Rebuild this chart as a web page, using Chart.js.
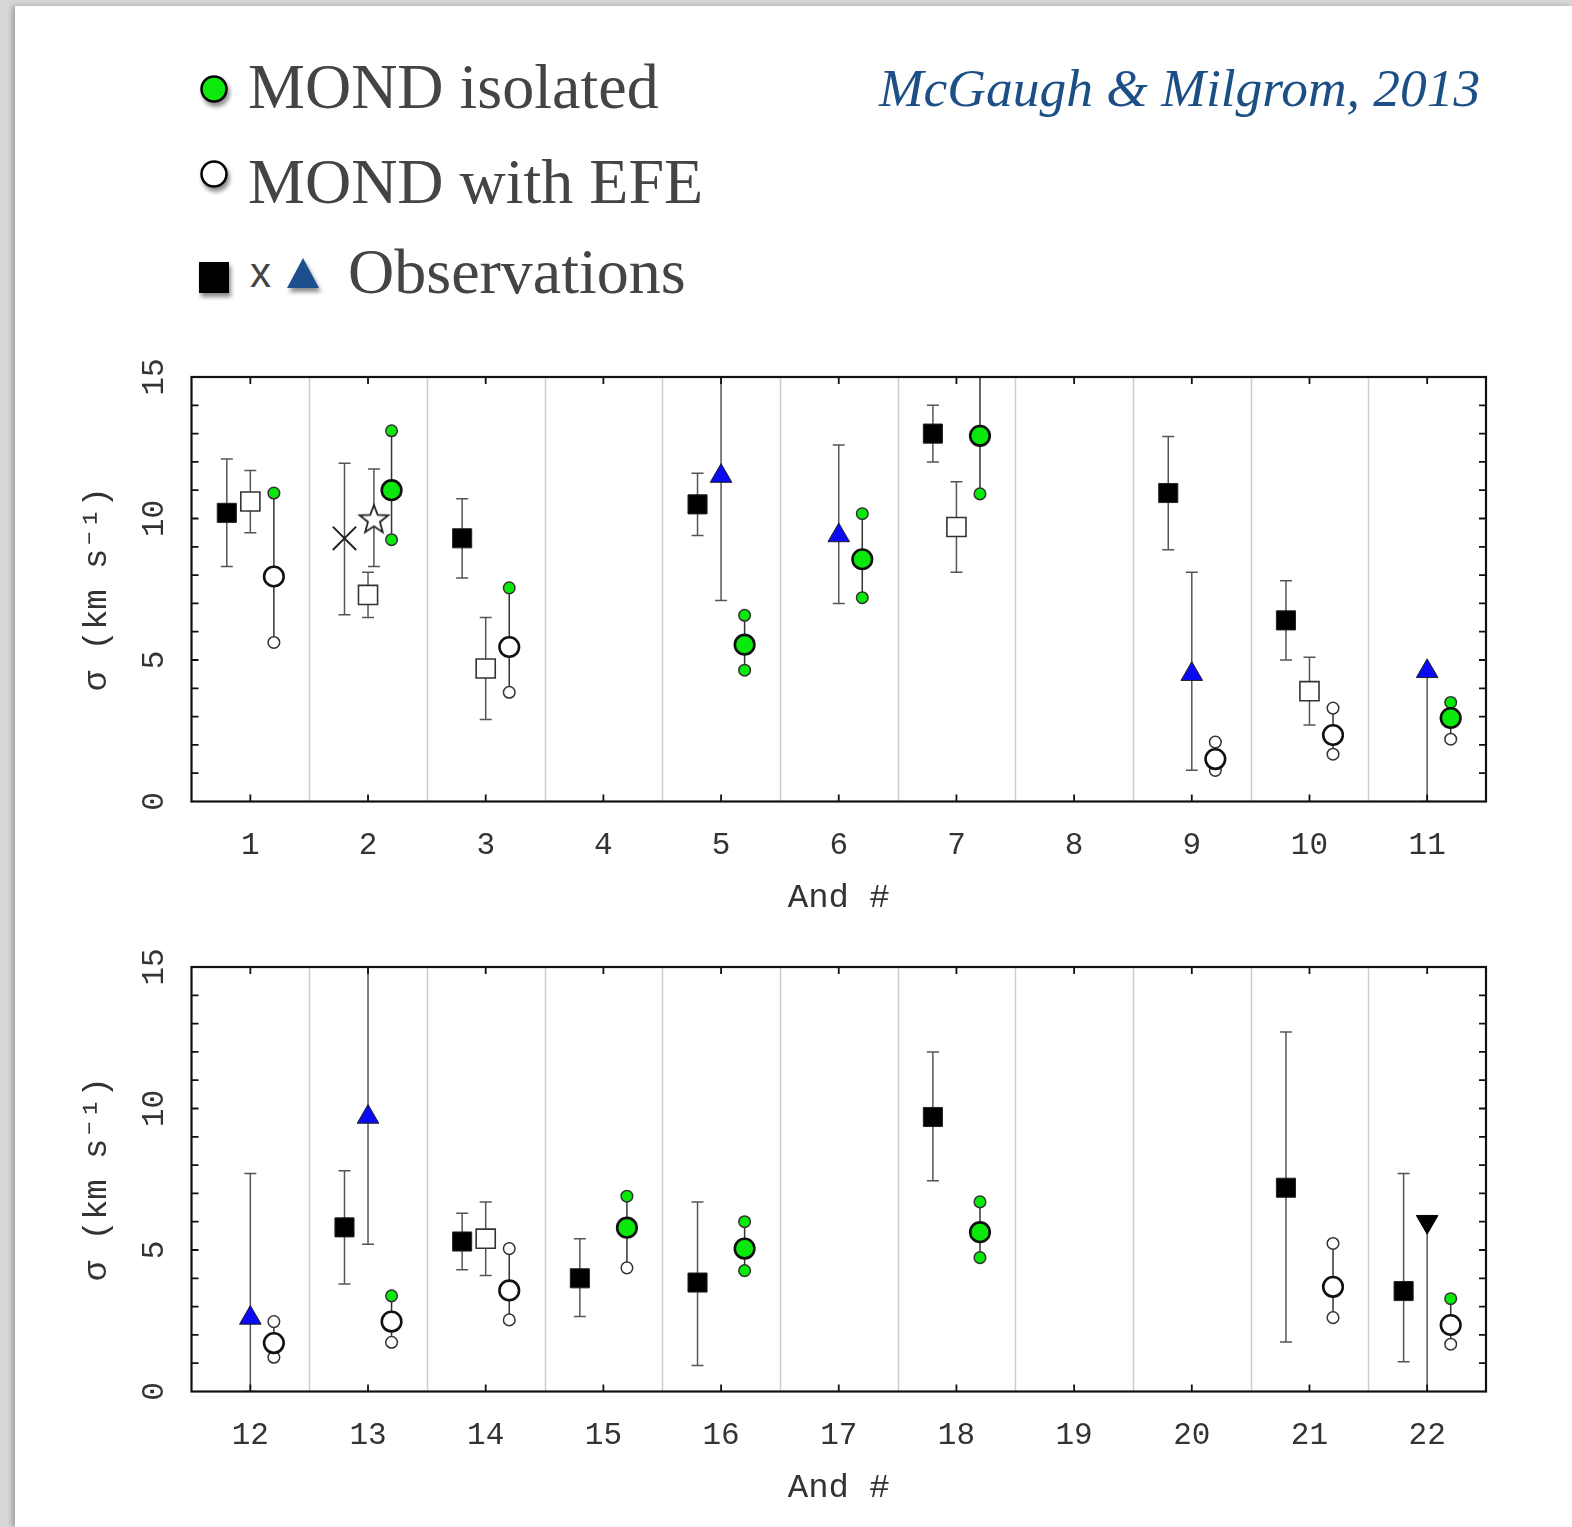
<!DOCTYPE html>
<html>
<head>
<meta charset="utf-8">
<script src="https://cdn.jsdelivr.net/npm/chart.js@4.4.1/dist/chart.umd.min.js"></script>
<style>
html, body { margin: 0; padding: 0; background: #d7d7d7; overflow: hidden; }
#page { position: absolute; left: 15px; top: 6px; width: 1557px; height: 1521px; background: #fff; box-shadow: -3px 0 5px rgba(0,0,0,.25); }
#head { position: absolute; left: 0; top: 0; }
.wrap { position: absolute; left: 0; width: 1572px; height: 600px; }
</style>
</head>
<body>
<div id="page"></div>
<svg id="head" width="1572" height="330">
  <defs>
    <filter id="sh" x="-50%" y="-50%" width="200%" height="200%">
      <feDropShadow dx="2" dy="4" stdDeviation="2" flood-color="#000" flood-opacity="0.45"/>
    </filter>
  </defs>
  <g font-family="Liberation Serif, serif" font-size="64" fill="#444">
    <circle cx="214" cy="89" r="12.5" fill="#0be80b" stroke="#000" stroke-width="2.5" filter="url(#sh)"/>
    <text x="248" y="108">MOND isolated</text>
    <circle cx="214" cy="174" r="12.5" fill="#fff" stroke="#000" stroke-width="2.5" filter="url(#sh)"/>
    <text x="248" y="203">MOND with EFE</text>
    <rect x="199" y="262" width="30" height="31" fill="#000" filter="url(#sh)"/>
    <text x="250" y="287" font-family="Liberation Sans, sans-serif" font-size="42">x</text>
    <polygon points="287,288 319,288 303,258" fill="#1c4f8c" filter="url(#sh)"/>
    <text x="348" y="293">Observations</text>
  </g>
  <text x="879" y="106" font-family="Liberation Serif, serif" font-style="italic" font-size="53.5" fill="#1b4f86">McGaugh &amp; Milgrom, 2013</text>
</svg>
<div class="wrap" style="top:330px"><canvas id="topChart" width="1572" height="600"></canvas></div>
<div class="wrap" style="top:919.5px"><canvas id="bottomChart" width="1572" height="600"></canvas></div>

<script>
// galaxies shown in each panel, and labelled sigma ticks
const andTop = [1, 2, 3, 4, 5, 6, 7, 8, 9, 10, 11];
const andBottom = [12, 13, 14, 15, 16, 17, 18, 19, 20, 21, 22];
const yTicks = [0, 5, 10, 15];

// observed velocity dispersions: [And #, sigma, lower, upper]
const obsFilledSq = [
  [1, 10.2, 8.3, 12.1], [3, 9.3, 7.9, 10.7], [5, 10.5, 9.4, 11.6], [7, 13.0, 12.0, 14.0],
  [9, 10.9, 8.9, 12.9], [10, 6.4, 5.0, 7.8], [13, 5.8, 3.8, 7.8], [14, 5.3, 4.3, 6.3],
  [15, 4.0, 2.65, 5.4], [16, 3.85, 0.92, 6.7], [18, 9.7, 7.45, 12.0], [21, 7.2, 1.75, 12.7],
  [22, 3.55, 1.05, 7.7]
];
const obsOpenSq = [
  [1, 10.6, 9.5, 11.7], [2, 7.3, 6.5, 8.1], [3, 4.7, 2.9, 6.5],
  [7, 9.7, 8.1, 11.3], [10, 3.9, 2.7, 5.1], [14, 5.4, 4.1, 6.7]
];
const obsCross = [[2, 9.3, 6.6, 11.95]];
const obsStar = [[2, 10.0, 8.3, 11.75]];
const obsTriangle = [
  [5, 11.5, 7.1, 16], [6, 9.4, 7.0, 12.6], [9, 4.5, 1.1, 8.1],
  [11, 4.6, 0, 4.6], [12, 2.6, 0, 7.7], [13, 9.7, 5.2, 16]
];
const obsLimit = [[22, 6.0, 0, 6.0]];

// MOND predictions: [And #, upper, central, lower]; regime per value, g = isolated, o = EFE
const mond = [
  [1, 10.9, 7.95, 5.62], [2, 13.1, 11.0, 9.25], [3, 7.55, 5.46, 3.86], [5, 6.58, 5.54, 4.64],
  [6, 10.17, 8.56, 7.2], [7, 16, 12.92, 10.87], [9, 2.1, 1.5, 1.1], [10, 3.3, 2.35, 1.67],
  [11, 3.5, 2.95, 2.2], [12, 2.47, 1.71, 1.21], [13, 3.38, 2.47, 1.74], [14, 5.05, 3.57, 2.53],
  [15, 6.9, 5.79, 4.37], [16, 6.0, 5.05, 4.27], [18, 6.7, 5.63, 4.73], [21, 5.23, 3.7, 2.61],
  [22, 3.28, 2.35, 1.67]
];
const mondKind = [
  'goo', 'ggg', 'goo', 'ggg', 'ggg', 'ggg', 'ooo', 'ooo', 'ggo',
  'ooo', 'goo', 'ooo', 'ggo', 'ggg', 'ggg', 'ooo', 'goo'
];

const GREEN = '#0be80b';
const BLUE = '#0a0af5';
const tickFont = { family: 'Liberation Mono, monospace', size: 31 };
const titleFont = { family: 'Liberation Mono, monospace', size: 34 };

function starImage(r) {
  const s = Math.ceil(r * 2 + 6);
  const c = document.createElement('canvas');
  c.width = c.height = s;
  const g = c.getContext('2d');
  g.beginPath();
  for (let i = 0; i < 10; i++) {
    const rr = i % 2 ? r * 0.42 : r;
    const a = -Math.PI / 2 + i * Math.PI / 5;
    g.lineTo(s / 2 + rr * Math.cos(a), s / 2 + 1.5 + rr * Math.sin(a));
  }
  g.closePath();
  g.fillStyle = '#fff';
  g.fill();
  g.strokeStyle = '#222';
  g.lineWidth = 1.8;
  g.stroke();
  return c;
}

function inPanel(rows, cats) {
  return rows.filter(r => r[0] >= cats[0] && r[0] <= cats[cats.length - 1]);
}

function obsSet(rows, dx, opts) {
  return Object.assign({
    data: rows.map(r => ({ x: r[0] + dx, y: r[1] })),
    errs: rows.map(r => [r[0] + dx, r[2], r[3]]),
    cap: 6,
    errColor: '#555',
    showLine: false,
    order: 3
  }, opts);
}

function mondSets(cats) {
  const rows = [], kinds = [];
  mond.forEach((r, i) => {
    if (r[0] >= cats[0] && r[0] <= cats[cats.length - 1]) { rows.push(r); kinds.push(mondKind[i]); }
  });
  const col = k => k === 'g' ? GREEN : '#fff';
  const small = [], smallCol = [];
  rows.forEach((r, i) => {
    small.push({ x: r[0] + 0.2, y: r[1] }, { x: r[0] + 0.2, y: r[3] });
    smallCol.push(col(kinds[i][0]), col(kinds[i][2]));
  });
  return [
    {
      data: rows.map(r => ({ x: r[0] + 0.2, y: r[2] })),
      showLine: false, order: 0,
      pointRadius: 9.8, pointHoverRadius: 9.8, pointStyle: 'circle',
      pointBackgroundColor: kinds.map(k => col(k[1])),
      pointBorderColor: '#111', pointBorderWidth: 2.6
    },
    {
      data: small,
      errs: rows.map(r => [r[0] + 0.2, r[3], r[1]]),
      cap: 0, errColor: '#333',
      showLine: false, order: 1,
      pointRadius: 5.8, pointHoverRadius: 5.8, pointStyle: 'circle',
      pointBackgroundColor: smallCol,
      pointBorderColor: '#333', pointBorderWidth: 1.5
    }
  ];
}

const frame = {
  id: 'frame',
  beforeDatasetsDraw(chart) {
    const { ctx, chartArea: a, scales: { x, y } } = chart;
    ctx.save();
    ctx.strokeStyle = '#cdcdcd';
    ctx.lineWidth = 1.5;
    x.ticks.forEach(t => {
      if (t.value + 0.5 >= x.max) return;
      const px = Math.round(x.getPixelForValue(t.value + 0.5)) + 0.5;
      ctx.beginPath(); ctx.moveTo(px, a.top); ctx.lineTo(px, a.bottom); ctx.stroke();
    });
    ctx.beginPath();
    ctx.rect(a.left, a.top, a.width, a.height);
    ctx.clip();
    ctx.lineWidth = 1.5;
    chart.data.datasets.forEach(ds => {
      if (!ds.errs) return;
      ctx.strokeStyle = ds.errColor;
      ds.errs.forEach(([xv, lo, hi]) => {
        const px = x.getPixelForValue(xv);
        const p1 = y.getPixelForValue(lo), p2 = y.getPixelForValue(hi);
        ctx.beginPath();
        ctx.moveTo(px, p1); ctx.lineTo(px, p2);
        if (ds.cap) {
          ctx.moveTo(px - ds.cap, p1); ctx.lineTo(px + ds.cap, p1);
          ctx.moveTo(px - ds.cap, p2); ctx.lineTo(px + ds.cap, p2);
        }
        ctx.stroke();
      });
    });
    ctx.restore();
  },
  afterDatasetsDraw(chart) {
    const { ctx, chartArea: a, scales: { x, y } } = chart;
    ctx.save();
    ctx.strokeStyle = '#111';
    ctx.lineWidth = 1.8;
    ctx.beginPath();
    x.ticks.forEach(t => {
      const px = x.getPixelForValue(t.value);
      ctx.moveTo(px, a.top); ctx.lineTo(px, a.top + 7);
      ctx.moveTo(px, a.bottom); ctx.lineTo(px, a.bottom - 7);
    });
    for (let v = y.min + 1; v < y.max; v++) {
      const py = y.getPixelForValue(v);
      ctx.moveTo(a.left, py); ctx.lineTo(a.left + 7, py);
      ctx.moveTo(a.right, py); ctx.lineTo(a.right - 7, py);
    }
    ctx.stroke();
    ctx.lineWidth = 2.2;
    ctx.strokeRect(a.left, a.top, a.width, a.height);
    ctx.restore();
  }
};

function makePanel(id, cats) {
  const datasets = [
    ...mondSets(cats),
    obsSet(inPanel(obsTriangle, cats), 0, {
      order: 2, pointStyle: 'triangle', pointRadius: 12.5, pointHoverRadius: 12.5,
      pointBackgroundColor: BLUE, pointBorderColor: '#222', pointBorderWidth: 1
    }),
    obsSet(inPanel(obsLimit, cats), 0, {
      order: 2, cap: 0, pointStyle: 'triangle', pointRotation: 180, pointRadius: 12.5, pointHoverRadius: 12.5,
      pointBackgroundColor: '#000', pointBorderColor: '#000', pointBorderWidth: 1
    }),
    obsSet(inPanel(obsFilledSq, cats), -0.2, {
      pointStyle: 'rect', pointRadius: 13.5, pointHoverRadius: 13.5,
      pointBackgroundColor: '#000', pointBorderColor: '#222', pointBorderWidth: 1
    }),
    obsSet(inPanel(obsOpenSq, cats), 0, {
      pointStyle: 'rect', pointRadius: 13.5, pointHoverRadius: 13.5,
      pointBackgroundColor: '#fff', pointBorderColor: '#333', pointBorderWidth: 1.6
    }),
    obsSet(inPanel(obsCross, cats), -0.2, {
      pointStyle: 'crossRot', pointRadius: 16.5, pointHoverRadius: 16.5,
      pointBorderColor: '#222', pointBorderWidth: 2
    }),
    obsSet(inPanel(obsStar, cats), 0.05, {
      pointStyle: starImage(15), pointRadius: 15, pointHoverRadius: 15
    })
  ];

  new Chart(document.getElementById(id), {
    type: 'scatter',
    data: { datasets },
    options: {
      responsive: false,
      animation: false,
      events: [],
      layout: { padding: { top: 47, right: 86, left: 0, bottom: 0 } },
      plugins: { legend: { display: false }, tooltip: { enabled: false } },
      scales: {
        x: {
          type: 'linear',
          min: cats[0] - 0.5,
          max: cats[cats.length - 1] + 0.5,
          afterBuildTicks: s => { s.ticks = cats.map(v => ({ value: v })); },
          afterFit: s => { s.height = 128.5; },
          grid: { display: false },
          border: { display: false },
          ticks: { font: tickFont, color: '#333', padding: 18, maxRotation: 0 },
          title: {
            display: true, text: 'And #', font: titleFont, color: '#333',
            padding: { top: 0, bottom: 12 }
          }
        },
        y: {
          type: 'linear',
          min: 0,
          max: 15,
          afterBuildTicks: s => { s.ticks = yTicks.map(v => ({ value: v })); },
          afterFit: s => { s.width = 191.5; },
          grid: { display: false },
          border: { display: false },
          ticks: { font: tickFont, color: '#333', padding: 10, minRotation: 90, maxRotation: 90, crossAlign: 'center' },
          title: {
            display: true, text: 'σ (km s⁻¹)', font: titleFont, color: '#333',
            padding: { top: 77, bottom: 0 }
          }
        }
      }
    },
    plugins: [frame]
  });
}

window.addEventListener('DOMContentLoaded', function() {
  makePanel('topChart', andTop);
  makePanel('bottomChart', andBottom);
});
</script>
</body>
</html>
